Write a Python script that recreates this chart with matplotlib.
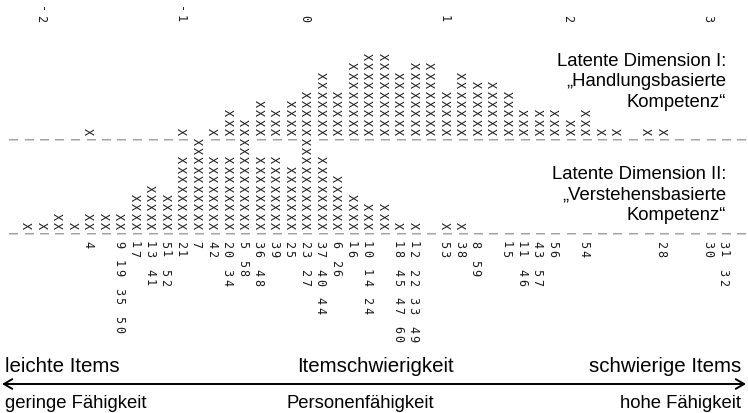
import matplotlib.pyplot as plt

# Wright map, rows of the ConQuest output turned by 90 degrees
n_rows = 48
tick_rows = [2, 11, 19, 28, 36, 45]
tick_labels = ["-2", "-1", "0", "1", "2", "3"]

# persons per row, dimension I (upper block) and dimension II (lower block)
dim1_counts = [0, 0, 0, 0, 0, 1, 0, 0, 0, 0, 0, 1, 0, 1, 3, 2, 4, 3, 4, 5,
               7, 5, 8, 9, 9, 7, 8, 8, 5, 7, 6, 6, 5, 3, 3, 3, 2, 3, 1, 1,
               0, 1, 1, 0, 0, 0, 0, 0]
dim2_counts = [0, 1, 1, 2, 1, 2, 2, 2, 4, 5, 4, 8, 10, 8, 8, 10, 8, 8, 7, 10,
               8, 6, 4, 3, 3, 1, 1, 0, 1, 1, 0, 0, 0, 0, 0, 0, 0, 0, 0, 0,
               0, 0, 0, 0, 0, 0, 0, 0]

item_rows = [5, 7, 8, 9, 10, 11, 12, 13, 14, 15, 16, 17, 18, 19, 20, 21, 22,
             23, 25, 26, 28, 29, 30, 32, 33, 34, 35, 37, 42, 45, 46]
item_labels = ["4", "9 19 35 50", "17", "13 41", "51 52", "21", "7", "42",
               "20 34", "5 58", "36 48", "39", "25", "23 27", "37 40 44",
               "6 26", "16", "10 14 24", "18 45 47 60", "12 22 33 49", "53",
               "38", "8 59", "15", "11 46", "43 57", "56", "54", "28", "30",
               "31 32"]

W, H = 748, 413
x0, dx = 10, 15.5     # pixel of first row, row spacing
y0, dy = 9.5, 9.4     # pixel of first character, character pitch
sep1, sep2 = 14, 24   # character positions of the two "|" columns

fig = plt.figure(figsize=(W / 100, H / 100), dpi=100)
ax = fig.add_axes([0, 0, 1, 1])
ax.set_xlim(-x0 / dx, (W - x0) / dx)
ax.set_ylim((H - y0) / dy, -y0 / dy)
ax.axis("off")

ticks = dict(zip(tick_rows, tick_labels))
items = dict(zip(item_rows, item_labels))

for r in range(n_rows):
    line = [" "] * 40
    if r in ticks:
        lab = ticks[r].rjust(2)
        for k, ch in enumerate(lab):
            line[k] = ch
    line[sep1] = "|"
    line[sep2] = "|"
    for k in range(dim1_counts[r]):
        line[sep1 - 1 - k] = "X"
    for k in range(dim2_counts[r]):
        line[sep2 - 1 - k] = "X"
    if r in items:
        for k, ch in enumerate(items[r]):
            line[sep2 + 1 + k] = ch
    for k, ch in enumerate(line):
        if ch == "|":
            ax.text(r, k, ch, rotation=-90, ha="center", va="center",
                    fontsize=6.8, family="DejaVu Sans Mono", color="#444444")
        elif ch != " ":
            ax.text(r, k, ch, rotation=-90, ha="center", va="center",
                    fontsize=8.5, family="DejaVu Sans Mono", color="#1a1a1a")

sans = "Liberation Sans"
fs = 13.3
fig.text(726 / W, 1 - 82 / H, "Latente Dimension I:\n„Handlungsbasierte\nKompetenz“",
         ha="right", va="center", fontsize=fs, family=sans, multialignment="right",
         linespacing=1.25)
fig.text(726 / W, 1 - 195 / H, "Latente Dimension II:\n„Verstehensbasierte\nKompetenz“",
         ha="right", va="center", fontsize=fs, family=sans, multialignment="right",
         linespacing=1.25)

fs_top = 14.8
fig.text(5 / W, 1 - 366 / H, "leichte Items", ha="left", va="center", fontsize=fs_top, family=sans)
fig.text(375 / W, 1 - 366 / H, "Itemschwierigkeit", ha="center", va="center", fontsize=fs_top, family=sans)
fig.text(741 / W, 1 - 366 / H, "schwierige Items", ha="right", va="center", fontsize=fs_top, family=sans)
fig.text(5 / W, 1 - 403 / H, "geringe Fähigkeit", ha="left", va="center", fontsize=fs, family=sans)
fig.text(360 / W, 1 - 403 / H, "Personenfähigkeit", ha="center", va="center", fontsize=fs, family=sans)
fig.text(741 / W, 1 - 403 / H, "hohe Fähigkeit", ha="right", va="center", fontsize=fs, family=sans)

ax.annotate("", xy=(2 / W, 1 - 384 / H), xytext=(746 / W, 1 - 384 / H),
            xycoords="figure fraction", textcoords="figure fraction",
            arrowprops=dict(arrowstyle="<->,head_length=0.6,head_width=0.35",
                            color="black", lw=1.4, shrinkA=0, shrinkB=0))

fig.savefig("out.png", dpi=100)
